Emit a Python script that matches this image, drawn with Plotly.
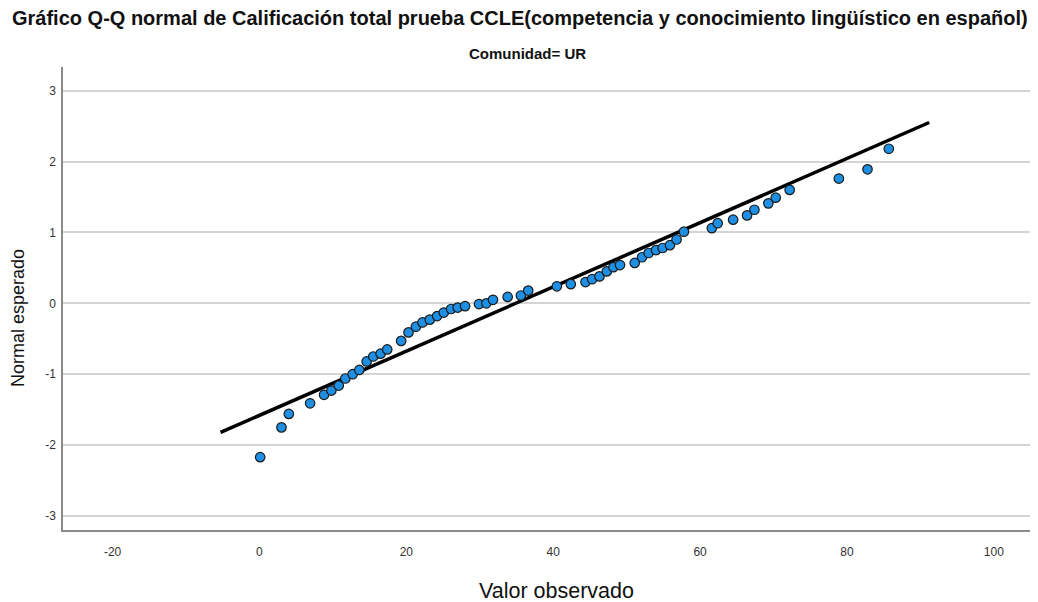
import plotly.graph_objects as go

# Observed values (Valor observado) and expected normal values (Normal esperado)
observed = [0.1, 3.0, 4.0, 6.9, 8.8, 9.8, 10.8, 11.7, 12.7, 13.6, 14.6, 15.5, 16.5, 17.4,
            19.3, 20.3, 21.3, 22.2, 23.2, 24.2, 25.1, 26.1, 27.0, 28.0, 29.9, 30.9, 31.8,
            33.8, 35.6, 36.6, 40.5, 42.4, 44.4, 45.3, 46.3, 47.3, 48.2, 49.1, 51.1, 52.1,
            53.0, 54.0, 54.9, 55.9, 56.8, 57.8, 61.6, 62.4, 64.5, 66.4, 67.4, 69.3, 70.3,
            72.2, 78.9, 82.8, 85.7]
expected = [-2.17, -1.75, -1.56, -1.41, -1.29, -1.23, -1.16, -1.06, -1.00, -0.94, -0.82,
            -0.75, -0.71, -0.65, -0.53, -0.41, -0.33, -0.27, -0.23, -0.18, -0.13, -0.08,
            -0.06, -0.04, -0.01, 0.00, 0.05, 0.09, 0.11, 0.18, 0.24, 0.27, 0.30, 0.34, 0.38,
            0.45, 0.51, 0.54, 0.57, 0.65, 0.71, 0.75, 0.78, 0.82, 0.90, 1.01, 1.06, 1.13,
            1.18, 1.24, 1.32, 1.41, 1.49, 1.60, 1.76, 1.89, 2.18]

# Reference line endpoints
line_x = [-5.3, 91.2]
line_y = [-1.82, 2.55]

x_ticks = [-20, 0, 20, 40, 60, 80, 100]
x_ticktext = ["-20", "0", "20", "40", "60", "80", "100"]
y_ticks = [-3, -2, -1, 0, 1, 2, 3]
y_ticktext = ["-3", "-2", "-1", "0", "1", "2", "3"]

title_text = "Gráfico Q-Q normal de Calificación total prueba CCLE(competencia y conocimiento lingüístico en español)"
subtitle_text = "Comunidad= UR"
x_title = "Valor observado"
y_title = "Normal esperado"

FONT = "Liberation Sans, Arial, sans-serif"
OFF = 8  # page body margin
W, H = 1038 - OFF, 602 - OFF
L, R, T, B = 63 - OFF, 6, 67 - OFF, 72
PW = W - L - R
PH = H - T - B


def px_x(px):
    return (px - OFF - L) / PW


def px_y(py):
    return (H - B - (py - OFF)) / PH


fig = go.Figure()
fig.add_trace(go.Scatter(
    x=line_x, y=line_y, mode="lines",
    line=dict(color="black", width=3.5),
    hoverinfo="skip", showlegend=False,
))
fig.add_trace(go.Scatter(
    x=observed, y=expected, mode="markers",
    marker=dict(size=9.5, color="#1e8fe3", line=dict(color="#1a1a1a", width=1.2)),
    showlegend=False,
))

fig.update_layout(
    width=W, height=H,
    margin=dict(l=L, r=R, t=T, b=B, autoexpand=False),
    paper_bgcolor="white", plot_bgcolor="white",
    font=dict(family=FONT, color="#333333"),
    annotations=[
        dict(text="<b>" + title_text + "</b>", xref="paper", yref="paper",
             x=px_x(520), y=px_y(18), xanchor="center", yanchor="middle",
             showarrow=False, font=dict(size=20, color="#111111", family=FONT)),
        dict(text="<b>" + subtitle_text + "</b>", xref="paper", yref="paper",
             x=px_x(527), y=px_y(53), xanchor="center", yanchor="middle",
             showarrow=False, font=dict(size=15, color="#111111", family=FONT)),
        dict(text=x_title, xref="paper", yref="paper",
             x=px_x(556), y=px_y(591), xanchor="center", yanchor="middle",
             showarrow=False, font=dict(size=21.5, color="#111111", family=FONT)),
        dict(text=y_title, xref="paper", yref="paper", textangle=-90,
             x=px_x(18), y=px_y(318), xanchor="center", yanchor="middle",
             showarrow=False, font=dict(size=18, color="#111111", family=FONT)),
    ],
)

fig.update_xaxes(
    range=[-26.75, 105.2], tickvals=x_ticks, ticktext=x_ticktext, showgrid=False, zeroline=False,
    showline=True, linecolor="#8a8a8a", linewidth=1.5, ticks="", automargin=False,
    ticklabelstandoff=10, tickfont=dict(size=12, color="#333333"),
)
fig.update_yaxes(
    range=[-3.197, 3.333], tickvals=y_ticks, ticktext=y_ticktext, showgrid=True,
    gridcolor="#d4d4d4", gridwidth=1.5, automargin=False,
    zeroline=False, showline=True, linecolor="#8a8a8a", linewidth=1.5, ticks="",
    ticklabelstandoff=3, tickfont=dict(size=12, color="#333333"),
)

fig.write_html("out.html")
